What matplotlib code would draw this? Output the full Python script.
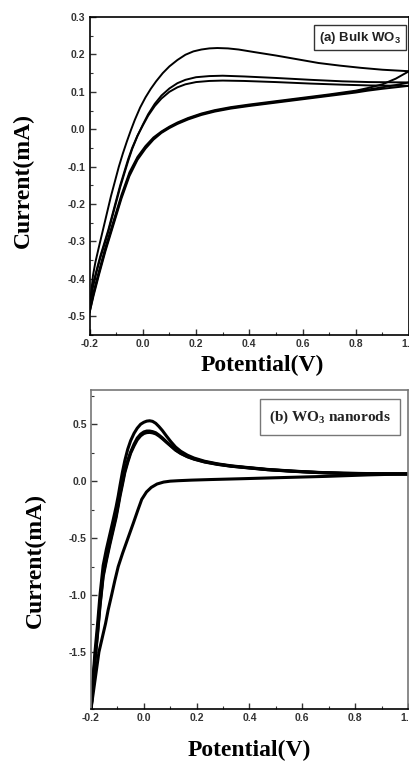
import matplotlib
matplotlib.use("Agg")
import matplotlib.pyplot as plt
from matplotlib.ticker import MultipleLocator

plt.rcParams['axes.unicode_minus'] = False

# (a) bulk WO3 - cycle 1 anodic (upper) branch
bulk_up1_v = [-0.2, -0.193, -0.187, -0.178, -0.165, -0.15, -0.135, -0.12, -0.105, -0.09, -0.075,
              -0.06, -0.045, -0.03, -0.01, 0.01, 0.03, 0.05, 0.075, 0.1, 0.13, 0.16, 0.19, 0.22,
              0.25, 0.28, 0.32, 0.36, 0.42, 0.5, 0.58, 0.66, 0.74, 0.82, 0.9, 1.0]
bulk_up1_i = [-0.48, -0.43, -0.39, -0.355, -0.315, -0.27, -0.225, -0.18, -0.14, -0.10, -0.065,
              -0.033, -0.003, 0.025, 0.058, 0.085, 0.108, 0.128, 0.15, 0.168, 0.185, 0.199, 0.208,
              0.213, 0.216, 0.217, 0.216, 0.213, 0.206, 0.197, 0.187, 0.177, 0.17, 0.164, 0.159, 0.155]
# cycles 2 and 3 anodic branches
bulk_up2_v = [-0.2, -0.19, -0.175, -0.16, -0.145, -0.13, -0.115, -0.1, -0.085, -0.07, -0.055,
              -0.04, -0.02, 0.0, 0.02, 0.045, 0.07, 0.1, 0.13, 0.16, 0.2, 0.25, 0.3, 0.38, 0.5,
              0.63, 0.75, 0.85, 1.0]
bulk_up2_i = [-0.48, -0.43, -0.385, -0.345, -0.31, -0.275, -0.235, -0.195, -0.155, -0.12, -0.085,
              -0.053, -0.018, 0.012, 0.04, 0.068, 0.09, 0.109, 0.123, 0.132, 0.139, 0.142, 0.143,
              0.141, 0.137, 0.132, 0.128, 0.126, 0.125]
bulk_up3_i = [-0.48, -0.425, -0.38, -0.34, -0.305, -0.27, -0.23, -0.19, -0.15, -0.115, -0.08,
              -0.05, -0.017, 0.01, 0.036, 0.062, 0.082, 0.1, 0.112, 0.12, 0.126, 0.129, 0.13,
              0.129, 0.126, 0.122, 0.119, 0.117, 0.116]
# cathodic (lower) branches
bulk_dn_v = [1.0, 0.95, 0.9, 0.845, 0.8, 0.7, 0.6, 0.5, 0.4, 0.33, 0.27, 0.22, 0.17, 0.13, 0.1,
             0.07, 0.04, 0.01, -0.02, -0.05, -0.08, -0.11, -0.14, -0.165, -0.185, -0.2]
bulk_dn1_i = [0.155, 0.135, 0.12, 0.11, 0.103, 0.093, 0.084, 0.075, 0.066, 0.059, 0.051, 0.042,
              0.030, 0.018, 0.007, -0.006, -0.022, -0.045, -0.074, -0.115, -0.175, -0.245, -0.315,
              -0.38, -0.435, -0.48]
bulk_dn2_i = [0.125, 0.118, 0.112, 0.106, 0.101, 0.091, 0.082, 0.073, 0.064, 0.057, 0.049, 0.040,
              0.028, 0.016, 0.005, -0.008, -0.025, -0.048, -0.078, -0.12, -0.18, -0.25, -0.32,
              -0.385, -0.44, -0.49]
bulk_dn3_i = [0.116, 0.112, 0.108, 0.103, 0.098, 0.089, 0.08, 0.071, 0.062, 0.055, 0.047, 0.038,
              0.026, 0.014, 0.003, -0.01, -0.028, -0.052, -0.082, -0.125, -0.185, -0.255, -0.325,
              -0.39, -0.445, -0.49]

# (b) WO3 nanorods - anodic branches of three cycles
rod_up_v = [-0.2, -0.197, -0.192, -0.185, -0.175, -0.166, -0.154, -0.142, -0.129, -0.117, -0.105,
            -0.097, -0.09, -0.081, -0.072, -0.061, -0.05, -0.037, -0.025, -0.012, 0.0, 0.011,
            0.022, 0.033, 0.045, 0.057, 0.07, 0.086, 0.103, 0.12, 0.14, 0.165, 0.19, 0.23, 0.279,
            0.33, 0.379, 0.47, 0.567, 0.66, 0.755, 0.87, 1.0]
rod_up1_i = [-2.0, -1.9, -1.72, -1.5, -1.25, -1.0, -0.74, -0.6, -0.47, -0.35, -0.225, -0.13, -0.035,
             0.08, 0.18, 0.28, 0.355, 0.42, 0.465, 0.5, 0.517, 0.527, 0.53, 0.525, 0.508, 0.48, 0.445,
             0.395, 0.345, 0.3, 0.262, 0.228, 0.203, 0.175, 0.152, 0.135, 0.123, 0.103, 0.088,
             0.077, 0.07, 0.066, 0.064]
rod_up2_i = [-2.0, -1.92, -1.76, -1.56, -1.32, -1.08, -0.82, -0.68, -0.54, -0.42, -0.3, -0.2, -0.11,
             -0.01, 0.09, 0.18, 0.255, 0.325, 0.378, 0.413, 0.432, 0.44, 0.44, 0.435, 0.425, 0.405,
             0.38, 0.345, 0.31, 0.275, 0.245, 0.216, 0.195, 0.17, 0.149, 0.132, 0.121, 0.101, 0.087,
             0.076, 0.069, 0.065, 0.063]
rod_up3_i = [-2.0, -1.93, -1.78, -1.58, -1.34, -1.1, -0.84, -0.7, -0.56, -0.44, -0.32, -0.22, -0.13,
             -0.03, 0.075, 0.165, 0.245, 0.31, 0.362, 0.398, 0.418, 0.426, 0.428, 0.424, 0.415, 0.397,
             0.373, 0.34, 0.306, 0.272, 0.242, 0.214, 0.193, 0.168, 0.147, 0.131, 0.12, 0.1, 0.086,
             0.075, 0.068, 0.064, 0.062]
# cathodic branch
rod_dn_v = [1.0, 0.85, 0.69, 0.5, 0.38, 0.25, 0.18, 0.13, 0.1, 0.075, 0.05, 0.028, 0.01, -0.008,
            -0.022, -0.04, -0.06, -0.08, -0.097, -0.11, -0.122, -0.135, -0.145, -0.158, -0.17,
            -0.185, -0.2]
rod_dn_i = [0.064, 0.055, 0.042, 0.03, 0.022, 0.014, 0.009, 0.004, 0.0, -0.008, -0.025, -0.055,
            -0.095, -0.16, -0.25, -0.37, -0.5, -0.63, -0.75, -0.875, -1.0, -1.13, -1.25, -1.38,
            -1.5, -1.75, -2.0]

fig = plt.figure(figsize=(4.09, 7.61), dpi=100)

tick_font = dict(fontsize=7.5, fontweight='bold', color='#333333', family='Liberation Sans')
label_font = dict(fontsize=17, fontweight='bold', family='Liberation Serif')
line_kw = dict(color='black', solid_joinstyle='round', solid_capstyle='round')

# ---- top panel ----
ax1 = fig.add_axes([0.219, 0.5598, 0.781, 0.4179])
ax1.plot(bulk_up1_v, bulk_up1_i, lw=1.4, **line_kw)
ax1.plot(bulk_up2_v, bulk_up2_i, lw=1.4, **line_kw)
ax1.plot(bulk_up2_v, bulk_up3_i, lw=1.4, **line_kw)
ax1.plot(bulk_dn_v, bulk_dn1_i, lw=1.4, **line_kw)
ax1.plot(bulk_dn_v, bulk_dn2_i, lw=1.4, **line_kw)
ax1.plot(bulk_dn_v, bulk_dn3_i, lw=1.4, **line_kw)
ax1.set_xlim(-0.2, 1.0)
ax1.set_ylim(-0.55, 0.3)
ax1.xaxis.set_major_locator(MultipleLocator(0.2))
ax1.xaxis.set_minor_locator(MultipleLocator(0.1))
ax1.yaxis.set_major_locator(MultipleLocator(0.1))
ax1.yaxis.set_minor_locator(MultipleLocator(0.05))
ax1.text(0.847, 0.935, r'(a) Bulk WO$_\mathregular{3}$', transform=ax1.transAxes,
         ha='center', va='center', fontsize=9.5, fontweight='bold', family='Liberation Sans',
         color='#222222',
         bbox=dict(boxstyle='square,pad=0.35', fc='white', ec='#333333', lw=1.0))
for sp in ax1.spines.values():
    sp.set_linewidth(1.2)

# ---- bottom panel ----
ax2 = fig.add_axes([0.2225, 0.0683, 0.775, 0.4192])
ax2.plot(rod_up_v, rod_up1_i, lw=2.2, **line_kw)
ax2.plot(rod_up_v, rod_up2_i, lw=2.2, **line_kw)
ax2.plot(rod_up_v, rod_up3_i, lw=2.2, **line_kw)
ax2.plot(rod_dn_v, rod_dn_i, lw=2.2, **line_kw)
ax2.set_xlim(-0.2, 1.0)
ax2.set_ylim(-2.0, 0.8)
ax2.xaxis.set_major_locator(MultipleLocator(0.2))
ax2.xaxis.set_minor_locator(MultipleLocator(0.1))
ax2.set_yticks([-1.5, -1.0, -0.5, 0.0, 0.5])
ax2.yaxis.set_minor_locator(MultipleLocator(0.25))
ax2.text(0.754, 0.915, r'(b) WO$_\mathregular{3}$ nanorods', transform=ax2.transAxes,
         ha='center', va='center', fontsize=11, fontweight='bold', family='Liberation Serif',
         color='#222222',
         bbox=dict(boxstyle='square,pad=0.6', fc='white', ec='#777777', lw=1.0))
for name, sp in ax2.spines.items():
    sp.set_linewidth(1.2)
    sp.set_color('black' if name == 'bottom' else '#777777')

for ax in (ax1, ax2):
    ax.tick_params(which='both', direction='in', color='#333333')
    ax.tick_params(which='major', length=4, width=1.0, pad=3)
    ax.tick_params(which='minor', length=2, width=0.8)
    for lab in ax.get_xticklabels() + ax.get_yticklabels():
        lab.set(**tick_font)

# axis labels
fig.text(23 / 409, 1 - 180 / 761, 'Current(mA)', rotation=90, ha='center', va='center', **label_font)
fig.text(262 / 409, 1 - 365 / 761, 'Potential(V)', ha='center', va='center', **label_font)
fig.text(35 / 409, 1 - 561 / 761, 'Current(mA)', rotation=90, ha='center', va='center', **label_font)
fig.text(249 / 409, 1 - 750 / 761, 'Potential(V)', ha='center', va='center', **label_font)

fig.savefig('out.png', dpi=100)
